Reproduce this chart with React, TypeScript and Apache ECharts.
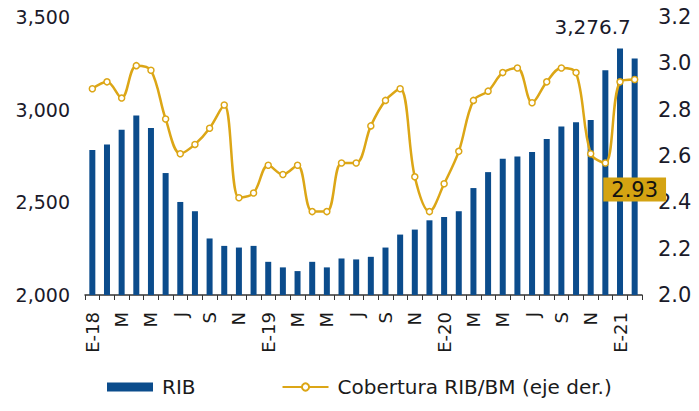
import React, { useEffect, useRef } from "react";
import * as echarts from "echarts";

const months = ["E", "F", "M", "A", "M", "J", "J", "A", "S", "O", "N", "D"];
const years = ["18", "19", "20", "21"];
const categories: string[] = [];
years.forEach((y) => months.forEach((m) => categories.push(m === "E" ? `E-${y}` : m)));
const cats = categories.slice(0, 38);

const ribValues = [
  2783, 2812, 2892, 2968, 2901, 2658, 2502, 2452, 2305, 2265, 2256, 2265,
  2179, 2149, 2129, 2179, 2149, 2197, 2192, 2206, 2256, 2326, 2353, 2403,
  2421, 2452, 2577, 2663, 2735, 2747, 2771, 2842, 2909, 2932, 2944, 3213,
  3330, 3276.7,
];

const coberturaValues = [
  2.89, 2.92, 2.85, 2.99, 2.97, 2.76, 2.61, 2.65, 2.72, 2.82, 2.42, 2.44,
  2.56, 2.52, 2.56, 2.36, 2.36, 2.57, 2.57, 2.73, 2.84, 2.89, 2.51, 2.36,
  2.48, 2.62, 2.84, 2.88, 2.96, 2.98, 2.83, 2.92, 2.98, 2.96, 2.61, 2.57,
  2.92, 2.93,
];

const leftTicks = { min: 2000, max: 3500, interval: 500 };
const rightTicks = { min: 2.0, max: 3.2, interval: 0.2 };

const BLUE = "#0B4C8C";
const GOLD = "#DCA616";
const FONT = "DejaVu Sans";

export default function App() {
  const ref = useRef<HTMLDivElement>(null);
  useEffect(() => {
    if (!ref.current) return;
    const chart = echarts.init(ref.current, undefined, { renderer: "svg" });
    const last = ribValues.length - 1;
    chart.setOption({
      animation: false,
      textStyle: { fontFamily: FONT },
      grid: { left: 85, right: 57, top: 17, bottom: 116, containLabel: false },
      legend: {
        left: 102,
        top: 372,
        itemWidth: 46,
        itemHeight: 9,
        itemGap: 86,
        textStyle: { fontFamily: FONT, fontSize: 20, color: "#1a1a1a", padding: [0, 0, 0, 4] },
        data: [
          { name: "RIB", icon: "rect" },
          { name: "Cobertura RIB/BM (eje der.)" },
        ],
      },
      xAxis: {
        type: "category",
        data: cats,
        boundaryGap: true,
        axisLine: { show: true, lineStyle: { color: "#333", width: 1.5 } },
        axisTick: { show: true, interval: 0, length: 5, inside: false, lineStyle: { color: "#333" } },
        axisLabel: {
          interval: 1,
          rotate: 90,
          fontSize: 18,
          fontFamily: FONT,
          color: "#1a1a1a",
          margin: 17,
        },
      },
      yAxis: [
        {
          type: "value",
          ...leftTicks,
          splitLine: { show: false },
          axisLine: { show: false },
          axisTick: { show: false },
          axisLabel: {
            fontSize: 19,
            fontFamily: FONT,
            color: "#1a1a2a",
            margin: 15,
            formatter: (v: number) => v.toLocaleString("en-US"),
          },
        },
        {
          type: "value",
          ...rightTicks,
          splitLine: { show: false },
          axisLine: { show: false },
          axisTick: { show: false },
          axisLabel: {
            fontSize: 21,
            fontFamily: FONT,
            color: "#1a1a2a",
            margin: 16,
            formatter: (v: number) => v.toFixed(1),
          },
        },
      ],
      series: [
        {
          name: "RIB",
          type: "bar",
          yAxisIndex: 0,
          barWidth: 6,
          itemStyle: { color: BLUE },
          data: ribValues.map((v, i) =>
            i === last
              ? {
                  value: v,
                  label: {
                    show: true,
                    position: "top",
                    offset: [-42, -16],
                    fontSize: 20,
                    fontFamily: FONT,
                    color: "#1a1a2a",
                    formatter: (p: any) =>
                      p.value.toLocaleString("en-US", { minimumFractionDigits: 1, maximumFractionDigits: 1 }),
                  },
                }
              : v
          ),
        },
        {
          name: "Cobertura RIB/BM (eje der.)",
          type: "line",
          yAxisIndex: 1,
          smooth: 0.35,
          symbol: "circle",
          symbolSize: 6,
          lineStyle: { color: GOLD, width: 2.5 },
          itemStyle: { color: "#ffffff", borderColor: GOLD, borderWidth: 1.5 },
          z: 3,
          data: coberturaValues.map((v, i) =>
            i === last
              ? {
                  value: v,
                  label: {
                    show: true,
                    position: "inside",
                    offset: [0, 110],
                    fontSize: 21,
                    fontFamily: FONT,
                    color: "#111",
                    backgroundColor: "#D4A312",
                    padding: [2, 8, 1, 8],
                    formatter: (p: any) => p.value.toFixed(2),
                  },
                }
              : v
          ),
        },
      ],
    });
    return () => chart.dispose();
  }, []);
  return <div ref={ref} style={{ width: 699, height: 411, margin: -8 }} />;
}
